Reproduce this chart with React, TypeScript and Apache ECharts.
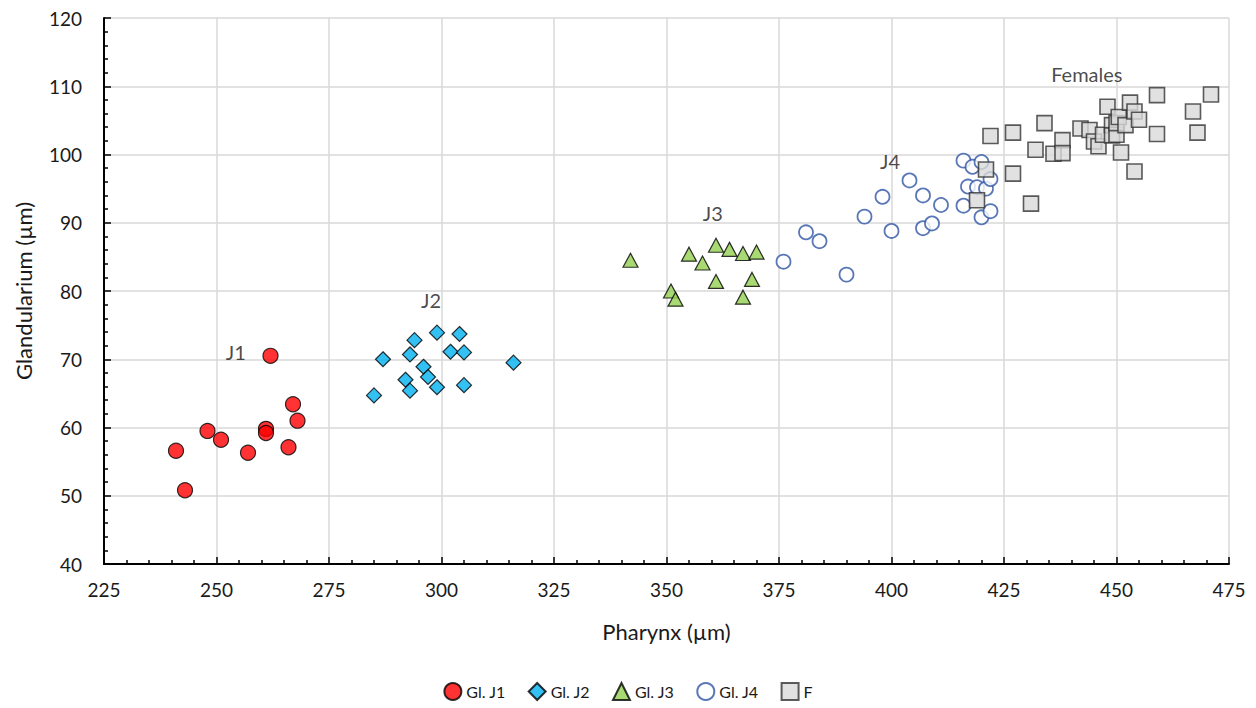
import React, { useEffect, useRef } from "react";
import * as echarts from "echarts";

const glJ1: number[][] = [
  [241, 56.6], [243, 50.8], [248, 59.5], [251, 58.2], [257, 56.3], [261, 59.8], [261, 59.2],
  [262, 70.5], [266, 57.1], [267, 63.4], [268, 61.0],
];
const glJ2: number[][] = [
  [285, 64.7], [287, 70.0], [292, 67.0], [293, 65.4], [293, 70.7], [294, 72.8], [296, 68.9],
  [297, 67.4], [299, 65.9], [299, 73.9], [302, 71.1], [304, 73.7], [305, 71.0], [305, 66.2], [316, 69.5],
];
const glJ3: number[][] = [
  [342, 84.5], [351, 80.0], [352, 78.8], [355, 85.4], [358, 84.1], [361, 86.7], [361, 81.4],
  [364, 86.1], [367, 85.5], [367, 79.1], [369, 81.7], [370, 85.7],
];
const glJ4: number[][] = [
  [376, 84.3], [381, 88.6], [384, 87.3], [390, 82.4], [394, 90.9], [398, 93.8], [400, 88.8],
  [404, 96.2], [407, 94.0], [407, 89.2], [409, 89.9], [411, 92.6], [416, 99.1], [416, 92.5],
  [417, 95.3], [418, 98.2], [419, 95.2], [420, 98.9], [421, 95.0], [420, 90.8], [422, 91.7], [422, 96.4],
];
const females: number[][] = [
  [422, 102.7], [421, 97.8], [419, 93.3], [427, 103.2], [427, 97.2], [431, 92.8], [432, 100.7],
  [434, 104.6], [436, 100.1], [438, 102.1], [438, 100.2], [442, 103.8], [444, 103.6], [445, 101.9],
  [446, 101.2], [447, 102.9], [448, 107.0], [449, 104.3], [449, 102.8], [450, 102.9], [450, 104.6],
  [450.5, 105.5], [451, 100.3], [452, 104.3], [453, 107.6], [454, 106.3], [455, 105.1], [454, 97.5],
  [459, 108.7], [459, 103.0], [467, 106.3], [468, 103.2], [471, 108.8],
];
const annotations: { name: string; value: number[] }[] = [
  { name: "J1", value: [254.3, 71.1] },
  { name: "J2", value: [297.7, 78.7] },
  { name: "J3", value: [360.3, 91.4] },
  { name: "J4", value: [399.7, 99.0] },
  { name: "Females", value: [443.4, 111.8] },
];
const seriesNames = ["Gl. J1", "Gl. J2", "Gl. J3", "Gl. J4", "F"];

const FONT = "Lato, 'Liberation Sans', sans-serif";
const TEXT = "#1a1a1a";

export default function App() {
  const ref = useRef<HTMLDivElement>(null);
  useEffect(() => {
    if (!ref.current) return;
    const chart = echarts.init(ref.current, undefined, { renderer: "svg" });
    const axisCommon = {
      axisLine: { show: true, onZero: false, lineStyle: { color: "#000", width: 2 } },
      axisTick: { show: true, inside: true, length: 7, lineStyle: { color: "#000", width: 1.5 } },
      minorTick: { show: true, splitNumber: 5, length: 4, lineStyle: { color: "#000", width: 1.5 } },
      splitLine: { show: true, lineStyle: { color: "#d9d9d9", width: 1.5 } },
      axisLabel: { color: TEXT, fontSize: 19, fontFamily: FONT },
      nameTextStyle: { color: TEXT, fontSize: 22, fontFamily: FONT },
    };
    chart.setOption({
      animation: false,
      backgroundColor: "#fff",
      grid: { left: 104, right: 27, top: 18, bottom: 144 },
      xAxis: {
        type: "value",
        min: 225,
        max: 475,
        interval: 25,
        name: "Pharynx (µm)",
        nameLocation: "middle",
        nameGap: 56,
        ...axisCommon,
        axisLabel: { ...axisCommon.axisLabel, margin: 16 },
      },
      yAxis: {
        type: "value",
        min: 40,
        max: 120,
        interval: 10,
        name: "Glandularium (µm)",
        nameLocation: "middle",
        nameGap: 70,
        ...axisCommon,
        axisLabel: { ...axisCommon.axisLabel, margin: 22 },
      },
      legend: {
        bottom: 2,
        left: "center",
        itemWidth: 17,
        itemHeight: 17,
        itemGap: 22,
        textStyle: { color: TEXT, fontSize: 16, fontFamily: FONT },
        data: seriesNames,
      },
      series: [
        {
          name: seriesNames[0], type: "scatter", data: glJ1, symbol: "circle", symbolSize: 15,
          itemStyle: { color: "#ff0000", borderColor: "#000", borderWidth: 1.2 },
        },
        {
          name: seriesNames[1], type: "scatter", data: glJ2, symbol: "diamond", symbolSize: [15, 15],
          itemStyle: { color: "#00b0f0", borderColor: "#000", borderWidth: 1.2 },
        },
        {
          name: seriesNames[2], type: "scatter", data: glJ3, symbol: "triangle", symbolSize: [15, 14],
          itemStyle: { color: "#92d050", borderColor: "#000", borderWidth: 1.2 },
        },
        {
          name: seriesNames[3], type: "scatter", data: glJ4, symbol: "circle", symbolSize: 14,
          itemStyle: { color: "#fff", borderColor: "#2f55a4", borderWidth: 1.8 },
        },
        {
          name: seriesNames[4], type: "scatter", data: females, symbol: "rect", symbolSize: 15,
          itemStyle: { color: "#d9d9d9", borderColor: "#333", borderWidth: 1.6 },
        },
        {
          name: "labels", type: "scatter", data: annotations, symbolSize: 0, silent: true,
          label: {
            show: true, position: "inside", formatter: "{b}", color: TEXT,
            fontSize: 20, fontFamily: FONT,
          },
        },
      ],
    });
    return () => chart.dispose();
  }, []);
  return <div ref={ref} style={{ width: 1256, height: 708, position: "absolute", left: 0, top: 0 }} />;
}
